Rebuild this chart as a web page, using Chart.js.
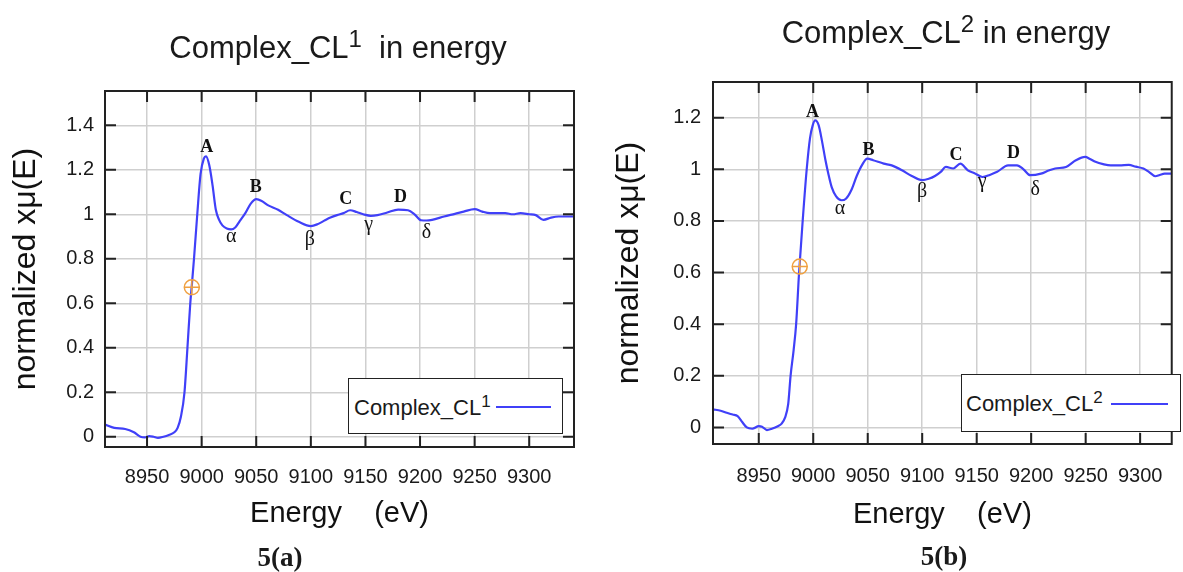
<!DOCTYPE html>
<html>
<head>
<meta charset="utf-8">
<script src="https://cdn.jsdelivr.net/npm/chart.js"></script>
<style>
  body { margin: 0; width: 1183px; height: 572px; position: relative; overflow: hidden; background: #fff;
         font-family: "Liberation Sans", Arial, sans-serif; color: #1a1a1a; }
  canvas { position: absolute; top: 0; }
  #chartA { left: 0; }
  #chartB { left: 600px; }
  .title { position: absolute; font-size: 31px; line-height: 31px; white-space: pre; transform: translateX(-50%); }
  .title sup, .legend sup { vertical-align: baseline; position: relative; }
  .title sup { font-size: 24px; top: -11px; }
  .legend { position: absolute; box-sizing: border-box; border: 1.5px solid #222; background: #fff; }
  .legend span { position: absolute; font-size: 22px; line-height: 22px; white-space: pre; }
  .legend sup { font-size: 17px; top: -8px; }
  .legend i { position: absolute; height: 0; border-top: 2px solid #4040f8; }
  .cap { position: absolute; font: bold 27px/27px "Liberation Serif", "Times New Roman", serif; transform: translateX(-50%); }
</style>
</head>
<body>
<canvas id="chartA" width="600" height="572"></canvas>
<canvas id="chartB" width="583" height="572"></canvas>

<div class="title" style="left:338px;top:32px">Complex_CL<sup>1</sup>  in energy</div>
<div class="title" style="left:946px;top:17px">Complex_CL<sup>2</sup> in energy</div>

<div class="legend" style="left:348px;top:378px;width:215px;height:56px">
  <span style="left:5px;top:18px">Complex_CL<sup>1</sup></span>
  <i style="left:147px;top:27px;width:55px"></i>
</div>
<div class="legend" style="left:961px;top:374px;width:220px;height:58px">
  <span style="left:4px;top:18px">Complex_CL<sup>2</sup></span>
  <i style="left:149px;top:28px;width:57px"></i>
</div>

<div class="cap" style="left:280px;top:544px">5(a)</div>
<div class="cap" style="left:944px;top:543px">5(b)</div>

<script>
// energy ticks shared by both panels
const energyTicks = [8950, 9000, 9050, 9100, 9150, 9200, 9250, 9300];
const muTicksA = [0, 0.2, 0.4, 0.6, 0.8, 1, 1.2, 1.4];
const muTicksB = [0, 0.2, 0.4, 0.6, 0.8, 1, 1.2];

// Complex_CL1 spectrum
const energyA = [8911.5, 8920, 8930, 8938, 8944, 8948, 8952, 8956, 8960, 8965, 8970, 8975, 8978, 8981,
  8984.3, 8987, 8989.6, 8991, 8993, 8996, 8999, 9002, 9004, 9007, 9010, 9013, 9016, 9019, 9023, 9027,
  9031, 9035, 9040, 9045, 9050, 9055, 9061, 9070, 9078, 9089, 9100, 9106, 9113, 9118, 9124, 9130,
  9136, 9142, 9148, 9155, 9161, 9170, 9180, 9189, 9195, 9201, 9206, 9211, 9222, 9232, 9240, 9250,
  9257, 9264, 9278, 9285, 9292, 9300, 9306, 9313, 9320, 9327, 9335, 9341];
const muA = [0.055, 0.04, 0.035, 0.02, 0.0, -0.003, 0.003, 0.0, -0.005, 0.0, 0.008, 0.02, 0.04, 0.09,
  0.2, 0.4, 0.6, 0.68, 0.8, 1.0, 1.18, 1.25, 1.26, 1.22, 1.13, 1.02, 0.975, 0.95, 0.936, 0.932,
  0.942, 0.97, 1.005, 1.048, 1.068, 1.06, 1.04, 1.02, 0.996, 0.966, 0.947, 0.955, 0.973, 0.985, 0.996, 1.005,
  1.018, 1.01, 1.0, 0.993, 0.996, 1.008, 1.021, 1.018, 1.0, 0.973, 0.972, 0.975, 0.99, 1.002, 1.012, 1.023,
  1.012, 1.005, 1.005, 1.0, 1.005, 1.0, 0.996, 0.975, 0.985, 0.99, 0.99, 0.99];

// Complex_CL2 spectrum
const energyB = [8908, 8915, 8920.6, 8926, 8930.6, 8935, 8939, 8944, 8950, 8953, 8957.5, 8962, 8967.5,
  8971, 8974, 8977, 8979.2, 8982, 8984.3, 8987, 8990.3, 8994, 8997, 8999.5, 9001.8, 9005, 9008, 9011,
  9014, 9017, 9021, 9026, 9030, 9035, 9040, 9045, 9049.6, 9055, 9064.7, 9072, 9081.5, 9090, 9100,
  9106, 9111.7, 9117, 9121.7, 9128.5, 9135, 9141.9, 9148, 9155.3, 9162, 9168.8, 9178.8, 9187, 9193,
  9199, 9209, 9216, 9222, 9232, 9241, 9249.5, 9254, 9259, 9266, 9273, 9281, 9289.6, 9296, 9303, 9308,
  9314, 9318, 9322.5, 9329];
const muB = [0.07, 0.065, 0.057, 0.05, 0.044, 0.02, 0.0, -0.005, 0.005, 0.003, -0.01, -0.005, 0.005,
  0.015, 0.037, 0.09, 0.2, 0.3, 0.4, 0.6, 0.8, 1.0, 1.12, 1.17, 1.189, 1.17, 1.11, 1.04,
  0.98, 0.93, 0.895, 0.88, 0.886, 0.92, 0.975, 1.018, 1.041, 1.035, 1.022, 1.015, 0.996, 0.975, 0.958,
  0.963, 0.974, 0.99, 1.009, 1.003, 1.022, 0.996, 0.985, 0.97, 0.978, 0.99, 1.015, 1.015, 1.0,
  0.977, 0.983, 0.995, 1.003, 1.009, 1.035, 1.048, 1.04, 1.029, 1.02, 1.015, 1.015, 1.017, 1.01, 1.003, 0.99,
  0.973, 0.978, 0.983, 0.983];

// edge position markers (E0)
const edgeA = [8991], edgeMuA = [0.672];
const edgeB = [8987.6], edgeMuB = [0.623];

// feature labels
const peakNames = ['A', 'B', 'C', 'D'];
const dipNames = ['α', 'β', 'γ', 'δ'];
const peakEA = [9004.7, 9049.5, 9132, 9182], peakMuA = [1.303, 1.123, 1.068, 1.077];
const dipEA = [9027, 9099, 9153, 9206], dipMuA = [0.898, 0.884, 0.951, 0.915];
const peakEB = [8999.4, 9050.6, 9131, 9183.7], peakMuB = [1.221, 1.073, 1.054, 1.061];
const dipEB = [9024.5, 9100, 9155, 9203.8], dipMuB = [0.848, 0.912, 0.951, 0.919];

const lineBlue = '#4040f8';
const edgeOrange = '#f0a040';

const framePlugin = {
  id: 'frame',
  afterDatasetsDraw(chart) {
    const { ctx, chartArea: a, scales: { x, y } } = chart;
    ctx.save();
    ctx.strokeStyle = '#222';
    ctx.lineWidth = 2;
    ctx.strokeRect(a.left, a.top, a.right - a.left, a.bottom - a.top);
    ctx.beginPath();
    x.ticks.forEach(t => {
      const px = x.getPixelForValue(t.value);
      ctx.moveTo(px, a.top); ctx.lineTo(px, a.top + 11);
      ctx.moveTo(px, a.bottom); ctx.lineTo(px, a.bottom - 11);
    });
    y.ticks.forEach(t => {
      const py = y.getPixelForValue(t.value);
      ctx.moveTo(a.left, py); ctx.lineTo(a.left + 11, py);
      ctx.moveTo(a.right, py); ctx.lineTo(a.right - 11, py);
    });
    ctx.stroke();
    ctx.restore();
  }
};

const labelPlugin = {
  id: 'featureLabels',
  afterDatasetsDraw(chart, args, opts) {
    const { ctx, scales: { x, y } } = chart;
    ctx.save();
    ctx.fillStyle = '#111';
    ctx.textAlign = 'center';
    ctx.textBaseline = 'middle';
    ctx.font = 'bold 18px "Liberation Serif", serif';
    opts.peakE.forEach((e, i) => ctx.fillText(peakNames[i], x.getPixelForValue(e), y.getPixelForValue(opts.peakMu[i])));
    ctx.font = '20px "Liberation Serif", serif';
    opts.dipE.forEach((e, i) => ctx.fillText(dipNames[i], x.getPixelForValue(e), y.getPixelForValue(opts.dipMu[i])));
    ctx.restore();
  }
};

function makeChart(id, cfg) {
  const pts = cfg.energy.map((e, i) => ({ x: e, y: cfg.mu[i] }));
  const edge = cfg.edgeE.map((e, i) => ({ x: e, y: cfg.edgeMu[i] }));
  return new Chart(document.getElementById(id), {
    type: 'scatter',
    data: {
      datasets: [
        { data: pts, showLine: true, borderColor: lineBlue, borderWidth: 2.2, pointRadius: 0,
          cubicInterpolationMode: 'monotone', order: 2 },
        { data: edge, pointStyle: 'circle', pointRadius: 7.5, borderColor: edgeOrange,
          backgroundColor: 'rgba(0,0,0,0)', borderWidth: 1.5, order: 1 },
        { data: edge, pointStyle: 'cross', pointRadius: 7.5, borderColor: edgeOrange,
          borderWidth: 1.5, order: 0 }
      ]
    },
    plugins: [framePlugin, labelPlugin],
    options: {
      responsive: false,
      animation: false,
      devicePixelRatio: 1,
      layout: { padding: { left: 0, top: cfg.top, right: cfg.right, bottom: 0 } },
      plugins: {
        legend: { display: false },
        tooltip: { enabled: false },
        featureLabels: { peakE: cfg.peakE, peakMu: cfg.peakMu, dipE: cfg.dipE, dipMu: cfg.dipMu }
      },
      scales: {
        x: {
          type: 'linear', min: cfg.xMin, max: cfg.xMax,
          afterBuildTicks: s => { s.ticks = energyTicks.map(v => ({ value: v })); },
          afterFit: s => { s.height = cfg.xAxisH; },
          grid: { color: '#cfcfcf', lineWidth: 1.5, drawTicks: false },
          border: { display: false },
          ticks: { padding: cfg.xPad, color: '#1a1a1a', font: { family: '"Liberation Sans", Arial', size: 20 },
                   callback: v => String(v) },
          title: { display: true, text: 'Energy    (eV)', color: '#111',
                   font: { family: '"Liberation Sans", Arial', size: 29 },
                   padding: { top: 0, bottom: cfg.xTitlePad } }
        },
        y: {
          min: cfg.yMin, max: cfg.yMax,
          afterBuildTicks: s => { s.ticks = cfg.yTicks.map(v => ({ value: v })); },
          afterFit: s => { s.width = cfg.yAxisW; },
          grid: { color: '#cfcfcf', lineWidth: 1.5, drawTicks: false },
          border: { display: false },
          ticks: { padding: cfg.yPad, color: '#1a1a1a', font: { family: '"Liberation Sans", Arial', size: 20 },
                   callback: v => String(Math.round(v * 10) / 10) },
          title: { display: true, text: 'normalized xμ(E)', color: '#111',
                   font: { family: '"Liberation Sans", Arial', size: 32 },
                   padding: { top: cfg.yTitlePad, bottom: 0 } }
        }
      }
    }
  });
}

makeChart('chartA', {
  energy: energyA, mu: muA, edgeE: edgeA, edgeMu: edgeMuA,
  peakE: peakEA, peakMu: peakMuA, dipE: dipEA, dipMu: dipMuA,
  xMin: 8911.5, xMax: 9341, yMin: -0.046, yMax: 1.554, yTicks: muTicksA,
  top: 91, right: 26, xAxisH: 125, yAxisW: 105,
  xPad: 18, yPad: 11, xTitlePad: 41, yTitlePad: 7
});

makeChart('chartB', {
  energy: energyB, mu: muB, edgeE: edgeB, edgeMu: edgeMuB,
  peakE: peakEB, peakMu: peakMuB, dipE: dipEB, dipMu: dipMuB,
  xMin: 8908, xMax: 9329, yMin: -0.064, yMax: 1.338, yTicks: muTicksB,
  top: 82, right: 3, xAxisH: 128, yAxisW: 113,
  xPad: 20, yPad: 12, xTitlePad: 40, yTitlePad: 10
});
</script>
</body>
</html>
